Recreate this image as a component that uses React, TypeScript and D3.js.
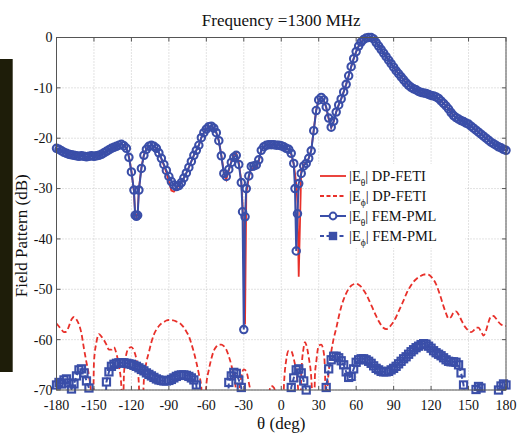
import React from 'react';
import * as d3 from 'd3';

const TITLE = 'Frequency =1300 MHz';
const X_LABEL = 'θ (deg)';
const Y_LABEL = 'Field Pattern (dB)';
const X_TICKS = [-180, -150, -120, -90, -60, -30, 0, 30, 60, 90, 120, 150, 180];
const Y_TICKS = [0, -10, -20, -30, -40, -50, -60, -70];

// |E_theta| angles (shared by both E-theta series)
const TH_THETA = [
  -180, -178, -176, -174, -172, -170, -168, -166, -164, -162,
  -160, -158, -156, -154, -152, -150, -148, -146, -144, -142,
  -140, -138, -136, -134, -132, -130, -128, -126, -124, -122,
  -120, -118, -117, -116, -115, -114,
  -112, -110, -108, -106, -104, -102, -100, -98, -96, -94,
  -92, -90, -88, -86, -84, -82, -80, -78, -76, -74,
  -72, -70, -68, -66, -64, -62, -60, -58, -56, -54,
  -52, -50, -48, -46, -44, -42, -40, -38, -36, -34,
  -32, -31, -30, -29,
  -28, -26, -24, -22, -20, -18, -16, -14, -12, -10,
  -8, -6, -4, -2, 0, 2, 4, 6, 8, 10,
  11, 12, 13,
  14, 16, 18, 20, 22, 24, 26, 28, 30, 32,
  34, 36, 38, 40, 42, 44, 46, 48, 50, 52,
  54, 56, 58, 60, 62, 64, 66, 68, 70, 72,
  74, 76, 78, 80, 82, 84, 86, 88, 90, 92,
  94, 96, 98, 100, 102, 104, 106, 108, 110, 112,
  114, 116, 118, 120, 122, 124, 126, 128, 130, 132,
  134, 136, 138, 140, 142, 144, 146, 148, 150, 152,
  154, 156, 158, 160, 162, 164, 166, 168, 170, 172,
  174, 176, 178, 180,
];

// |E_theta| FEM-PML (blue, circles)
const TH_FEM = [
  -22.0, -22.2, -22.5, -22.8, -23.0, -23.2, -23.3, -23.4, -23.5, -23.6,
  -23.5, -23.6, -23.7, -23.6, -23.5, -23.6, -23.5, -23.4, -23.2, -22.9,
  -22.6, -22.3, -22.0, -21.8, -21.6, -21.4, -21.2, -21.5, -22.0, -23.8,
  -26.7, -30.3, -35.3, -35.5, -35.3, -30.3,
  -26.0, -23.4, -22.2, -21.6, -21.4, -21.6, -22.0, -22.9, -24.0, -25.2,
  -26.4, -27.6, -28.6, -29.3, -29.6, -29.4, -28.8, -27.9, -26.9, -25.8,
  -24.6, -23.4, -22.4, -21.4, -19.9, -18.9, -18.2, -17.7, -17.6, -18.0,
  -18.9, -20.5, -23.5, -27.0, -27.6, -26.2, -24.8, -23.8, -23.4, -25.2,
  -28.8, -34.6, -58.0, -35.6,
  -30.0, -27.5, -25.6, -25.5, -25.3, -24.3, -22.4, -21.7, -21.4, -21.3,
  -21.3, -21.3, -21.4, -21.4, -21.5, -21.7, -22.0, -22.2, -23.0, -25.0,
  -30.0, -42.4, -35.0,
  -29.0, -27.0, -25.5, -25.0, -24.0, -22.5, -18.5, -14.5, -12.4, -11.9,
  -12.4, -13.8, -16.0, -17.8, -16.6, -14.8, -13.4, -12.2, -10.8, -9.3,
  -7.6, -5.8, -4.2, -2.8, -1.7, -0.9, -0.4, -0.1, 0.0, 0.0,
  -0.3, -1.0, -1.7, -2.4, -3.1, -3.8, -4.5, -5.2, -5.9, -6.6,
  -7.2, -7.8, -8.4, -9.0, -9.5, -9.9, -10.2, -10.4, -10.7, -10.9,
  -11.0, -11.1, -11.3, -11.5, -11.6, -11.8, -12.1, -12.6, -13.1, -13.6,
  -14.2, -14.9, -15.5, -15.9, -16.2, -16.5, -16.7, -17.0, -17.2, -17.6,
  -18.0, -18.4, -18.8, -19.2, -19.6, -20.0, -20.4, -20.8, -21.1, -21.4,
  -21.7, -21.9, -22.2, -22.4,
];

// |E_theta| DP-FETI (red solid)
const TH_DP = [
  -22.0, -22.2, -22.5, -22.8, -23.0, -23.2, -23.3, -23.4, -23.5, -23.6,
  -23.5, -23.6, -23.7, -23.6, -23.5, -23.6, -23.5, -23.4, -23.2, -22.9,
  -22.6, -22.3, -22.0, -21.8, -21.6, -21.4, -21.2, -21.4, -21.9, -23.6,
  -26.5, -30.5, -35.0, -35.6, -35.0, -30.0,
  -25.8, -23.3, -22.1, -21.6, -21.4, -21.6, -22.0, -22.9, -24.1, -25.4,
  -26.8, -28.6, -30.4, -30.6, -30.0, -29.4, -28.8, -27.9, -26.9, -25.8,
  -24.6, -23.4, -22.4, -21.4, -19.9, -18.9, -18.2, -17.7, -17.6, -18.0,
  -18.9, -20.5, -23.3, -26.8, -28.2, -26.4, -24.6, -23.4, -23.0, -24.8,
  -28.5, -33.0, -45.0, -57.0,
  -31.0, -27.8, -25.8, -26.2, -25.8, -24.6, -22.5, -21.7, -21.4, -21.3,
  -21.3, -21.3, -21.4, -21.4, -21.5, -21.7, -22.0, -22.3, -23.2, -25.2,
  -27.0, -29.0, -33.0,
  -47.5, -26.5, -25.3, -24.9, -24.0, -22.4, -18.4, -14.4, -12.3, -11.9,
  -12.4, -13.9, -16.2, -17.9, -16.7, -14.8, -13.4, -12.2, -10.8, -9.3,
  -7.6, -5.8, -4.2, -2.8, -1.7, -0.9, -0.4, -0.1, 0.0, 0.0,
  -0.3, -1.0, -1.7, -2.4, -3.1, -3.8, -4.5, -5.2, -5.9, -6.6,
  -7.2, -7.8, -8.4, -9.0, -9.5, -9.9, -10.2, -10.4, -10.7, -10.9,
  -11.0, -11.1, -11.3, -11.5, -11.7, -11.8, -12.1, -12.6, -13.1, -13.6,
  -14.2, -14.9, -15.5, -15.9, -16.2, -16.5, -16.7, -17.0, -17.2, -17.6,
  -18.0, -18.4, -18.8, -19.2, -19.6, -20.0, -20.4, -20.8, -21.1, -21.4,
  -21.7, -21.9, -22.2, -22.4,
];

// |E_phi| DP-FETI (red dashed)
const PHI_DP_THETA = [
  -180, -178, -176, -174, -172, -170, -168, -166, -164, -162,
  -160, -158, -156, -154, -152, -151, -150, -148, -146, -144,
  -142, -140, -138, -136, -134, -132, -130, -128, -127, -126,
  -124, -122, -120, -118, -116, -114, -113, -111, -110, -108,
  -106, -104, -102, -100, -98, -96, -94, -92, -90, -88,
  -86, -84, -82, -80, -78, -76, -74, -72, -70, -68,
  -66, -64, -62, -60, -58, -56, -54, -52, -50, -48,
  -46, -44, -42, -40, -38, -36, -35, -34, -32, -30,
  -28, -26, -24, -23, -12, -10, -8, -6, -4, -2,
  1, 2, 4, 6, 8, 10, 12, 14, 15, 16,
  18, 19, 20, 22, 24, 25, 26, 27, 28, 30,
  32, 34, 35, 36, 37, 38, 40, 42, 44, 46,
  48, 50, 52, 54, 56, 58, 60, 62, 64, 66,
  68, 70, 72, 74, 76, 78, 80, 82, 84, 86,
  88, 90, 92, 94, 96, 98, 100, 102, 104, 106,
  108, 110, 112, 114, 116, 118, 120, 122, 124, 126,
  128, 130, 132, 134, 136, 138, 140, 142, 144, 146,
  148, 150, 152, 154, 156, 158, 160, 162, 164, 166,
  168, 170, 172, 174, 176, 178, 180,
];
const PHI_DP = [
  -56.8, -57.4, -58.0, -58.5, -58.4, -57.3, -56.0, -55.5, -56.0, -57.0,
  -58.8, -61.8, -64.5, -67.2, -72.0, -80.0, -64.5, -60.5, -58.9, -59.4,
  -60.1, -61.0, -62.0, -62.0, -61.5, -62.8, -65.2, -69.5, -80.0, -67.0,
  -62.8, -61.7, -61.5, -62.2, -64.0, -69.0, -80.0, -74.0, -68.0, -64.5,
  -62.5, -60.5, -59.0, -58.0, -57.3, -56.8, -56.5, -56.2, -56.1, -56.1,
  -56.2, -56.4, -56.6, -57.0, -57.6, -58.4, -59.3, -60.8, -62.5, -64.5,
  -66.8, -69.5, -80.0, -69.0, -66.0, -63.8, -62.2, -61.4, -61.0, -61.0,
  -61.3, -62.0, -63.3, -65.0, -67.3, -71.0, -80.0, -72.0, -67.4, -65.9,
  -66.3, -68.5, -72.0, -80.0, -80.0, -71.0, -69.2, -69.5, -72.0, -80.0,
  -80.0, -70.0, -64.0, -62.2, -62.3, -63.8, -66.5, -72.0, -80.0, -67.0,
  -61.5, -60.5, -61.0, -63.5, -67.5, -72.0, -80.0, -67.0, -64.5, -61.2,
  -61.0, -62.5, -66.0, -80.0, -70.0, -66.5, -62.5, -59.8, -57.8, -55.5,
  -53.5, -52.0, -50.8, -49.9, -49.3, -49.0, -48.9, -49.1, -49.5, -50.2,
  -51.0, -52.0, -53.1, -54.2, -55.3, -56.3, -57.1, -57.7, -57.9, -57.7,
  -57.1, -56.4, -55.5, -54.4, -53.3, -52.2, -51.0, -50.0, -49.2, -48.5,
  -48.0, -47.6, -47.3, -47.1, -47.0, -47.1, -47.5, -48.1, -49.0, -50.3,
  -51.8, -53.4, -54.8, -55.8, -55.5, -54.6, -54.4, -55.0, -56.0, -57.0,
  -57.7, -58.2, -58.5, -58.2, -57.6, -57.6, -58.4, -59.2, -58.2, -56.5,
  -55.4, -55.3, -55.8, -56.5, -57.0, -57.2, -57.3,
];

// |E_phi| FEM-PML (blue, squares), every 2 degrees from -180 to 180
const PHI_FEM_THETA = d3.range(-180, 181, 2);
const PHI_FEM = [
  -69.0, -68.5, -68.8, -68.0, -67.8, -68.6, -69.8, -68.8, -67.2, -66.0,
  -65.8, -66.6, -68.2, -69.6, -80.0, -80.0, -80.0, -80.0, -80.0, -80.0,
  -68.4, -66.4, -65.3, -64.9, -64.7, -64.6, -64.6, -64.6, -64.7, -64.8,
  -64.9, -65.1, -65.3, -65.6, -65.9, -66.2, -66.6, -66.9, -67.2, -67.5,
  -67.8, -68.0, -68.1, -68.2, -68.2, -68.1, -67.9, -67.6, -67.3, -67.1,
  -67.0, -67.0, -67.1, -67.3, -67.6, -68.0, -69.0, -80.0, -80.0, -80.0,
  -80.0, -80.0, -80.0, -80.0, -80.0, -80.0, -80.0, -80.0, -80.0, -68.5,
  -67.2, -66.5, -66.7, -68.0, -69.5, -80.0, -80.0, -80.0, -80.0, -80.0,
  -80.0, -80.0, -80.0, -80.0, -80.0, -80.0, -80.0, -80.0, -80.0, -80.0,
  -80.0, -80.0, -80.0, -80.0, -69.5, -67.6, -66.0, -65.8, -66.6, -68.2,
  -70.0, -80.0, -80.0, -80.0, -80.0, -80.0, -80.0, -80.0, -69.5, -65.8,
  -64.0, -63.3, -63.3, -63.6, -64.2, -65.0, -66.4, -67.5, -67.3, -65.8,
  -64.5, -64.0, -63.8, -63.8, -64.0, -64.3, -64.7, -65.2, -65.7, -66.0,
  -66.3, -66.4, -66.4, -66.3, -66.0, -65.7, -65.3, -64.8, -64.3, -63.8,
  -63.4, -62.9, -62.4, -62.0, -61.6, -61.3, -61.0, -60.8, -60.9, -61.3,
  -61.7, -62.2, -62.6, -62.9, -63.2, -63.6, -64.0, -64.3, -64.4, -64.4,
  -64.5, -65.0, -66.6, -69.0, -80.0, -80.0, -80.0, -80.0, -69.9, -69.3,
  -69.6, -80.0, -80.0, -80.0, -80.0, -80.0, -80.0, -70.0, -69.2, -68.8,
  -69.0,
];

const LEGEND = [
  { label: 'DP-FETI', sub: 'θ', kind: 'redSolid' },
  { label: 'DP-FETI', sub: 'ϕ', kind: 'redDash' },
  { label: 'FEM-PML', sub: 'θ', kind: 'blueCircle' },
  { label: 'FEM-PML', sub: 'ϕ', kind: 'blueSquare' },
];

const RED = '#e8302a';
const BLUE = '#3a4ea8';
const FONT = '"Liberation Serif", "DejaVu Serif", "Times New Roman", serif';
const TXT = { fontFamily: FONT };

export default function App() {
  const W = 524;
  const H = 434;
  const left = 56.5, right = 506, top = 37.5, bottom = 390;
  const x = d3.scaleLinear().domain([-180, 180]).range([left, right]);
  const y = d3.scaleLinear().domain([-70, 0]).range([bottom, top]);

  const mk = (th: number[], vals: number[], curve: any = d3.curveLinear) =>
    d3
      .line<number>()
      .x((_, i) => x(th[i]))
      .y((d) => y(d))
      .curve(curve)(vals) || '';

  const thDpPath = mk(TH_THETA, TH_DP);
  const phiDpPath = mk(PHI_DP_THETA, PHI_DP, d3.curveMonotoneX);
  const thFemPath = mk(TH_THETA, TH_FEM);
  const phiFemPath = mk(PHI_FEM_THETA, PHI_FEM);

  const legX0 = 320, legX1 = 346, legText = 349, legY0 = 176, legDy = 20;
  const R = 3.7;
  const S = 7.2;

  return (
    <div style={{ position: 'absolute', left: 0, top: 0 }}>
      <svg width={W} height={H} style={{ display: 'block', background: '#fff' }}>
        <defs>
          <clipPath id="plotClip">
            <rect x={left} y={top} width={right - left} height={bottom - top} />
          </clipPath>
        </defs>
        <rect x={0} y={59} width={12.7} height={313} fill="#1e1d09" />

        {/* grid */}
        {X_TICKS.map((t) => (
          <line key={'gx' + t} x1={x(t)} x2={x(t)} y1={top} y2={bottom} stroke="#b8b8b8" strokeWidth={0.8} strokeDasharray="1,2" />
        ))}
        {Y_TICKS.map((t) => (
          <line key={'gy' + t} x1={left} x2={right} y1={y(t)} y2={y(t)} stroke="#b8b8b8" strokeWidth={0.8} strokeDasharray="1,2" />
        ))}

        {/* series */}
        <g clipPath="url(#plotClip)">
          <path d={thDpPath} fill="none" stroke={RED} strokeWidth={1.8} />
          <path d={phiDpPath} fill="none" stroke={RED} strokeWidth={1.8} strokeDasharray="5.5,3" />
          <path d={thFemPath} fill="none" stroke={BLUE} strokeWidth={2} />
          <path d={phiFemPath} fill="none" stroke={BLUE} strokeWidth={2} strokeDasharray="5,3" />
        </g>
        <g>
          {TH_FEM.map((v, i) =>
            v >= -70 ? (
              <circle key={'c' + i} cx={x(TH_THETA[i])} cy={y(v)} r={R} fill="none" stroke={BLUE} strokeWidth={2.1} />
            ) : null
          )}
          {PHI_FEM.map((v, i) =>
            v >= -70 ? (
              <rect key={'s' + i} x={x(PHI_FEM_THETA[i]) - S / 2} y={y(v) - S / 2} width={S} height={S} fill="none" stroke={BLUE} strokeWidth={2.1} />
            ) : null
          )}
        </g>

        {/* legend */}
        <rect x={317} y={164} width={148} height={84} fill="#fff" />
        {LEGEND.map((e, i) => {
          const ly = legY0 + i * legDy;
          const cx = (legX0 + legX1) / 2;
          return (
            <g key={'lg' + i}>
              {e.kind === 'redSolid' && <line x1={legX0} x2={legX1} y1={ly} y2={ly} stroke={RED} strokeWidth={1.8} />}
              {e.kind === 'redDash' && <line x1={legX0} x2={legX1} y1={ly} y2={ly} stroke={RED} strokeWidth={1.8} strokeDasharray="4,2.5" />}
              {e.kind === 'blueCircle' && (
                <g>
                  <line x1={legX0} x2={legX1} y1={ly} y2={ly} stroke={BLUE} strokeWidth={2} />
                  <circle cx={cx} cy={ly} r={3.4} fill="#fff" stroke={BLUE} strokeWidth={2} />
                </g>
              )}
              {e.kind === 'blueSquare' && (
                <g>
                  <line x1={legX0} x2={legX1} y1={ly} y2={ly} stroke={BLUE} strokeWidth={2} strokeDasharray="4,2.5" />
                  <rect x={cx - 3.4} y={ly - 3.4} width={6.8} height={6.8} fill={BLUE} stroke={BLUE} strokeWidth={1.6} />
                </g>
              )}
              <text x={legText} y={ly + 5} fontSize={14.5} fill="#111" style={TXT}>
                |E<tspan dy={5} fontSize={9.5}>{e.sub}</tspan>
                <tspan dy={-5}>{'| ' + e.label}</tspan>
              </text>
            </g>
          );
        })}

        {/* axes box */}
        <rect x={left} y={top} width={right - left} height={bottom - top} fill="none" stroke="#555" strokeWidth={1} />
        {X_TICKS.map((t) => (
          <g key={'tx' + t}>
            <line x1={x(t)} x2={x(t)} y1={bottom} y2={bottom - 4} stroke="#555" />
            <line x1={x(t)} x2={x(t)} y1={top} y2={top + 4} stroke="#555" />
            <text x={x(t)} y={bottom + 20} textAnchor="middle" fontSize={14} fill="#111" style={TXT}>
              {String(t)}
            </text>
          </g>
        ))}
        {Y_TICKS.map((t) => (
          <g key={'ty' + t}>
            <line x1={left} x2={left + 4} y1={y(t)} y2={y(t)} stroke="#555" />
            <line x1={right} x2={right - 4} y1={y(t)} y2={y(t)} stroke="#555" />
            <text x={left - 4} y={y(t)} dy="0.35em" textAnchor="end" fontSize={14} fill="#111" style={TXT}>
              {String(t)}
            </text>
          </g>
        ))}

        <text x={(left + right) / 2} y={26} textAnchor="middle" fontSize={17} fill="#111" style={TXT}>
          {TITLE}
        </text>
        <text x={(left + right) / 2} y={429} textAnchor="middle" fontSize={17} fill="#111" style={TXT}>
          {X_LABEL}
        </text>
        <text transform={`translate(27, ${(top + bottom) / 2 + 22}) rotate(-90)`} textAnchor="middle" fontSize={17} fill="#111" style={TXT}>
          {Y_LABEL}
        </text>
      </svg>
    </div>
  );
}
